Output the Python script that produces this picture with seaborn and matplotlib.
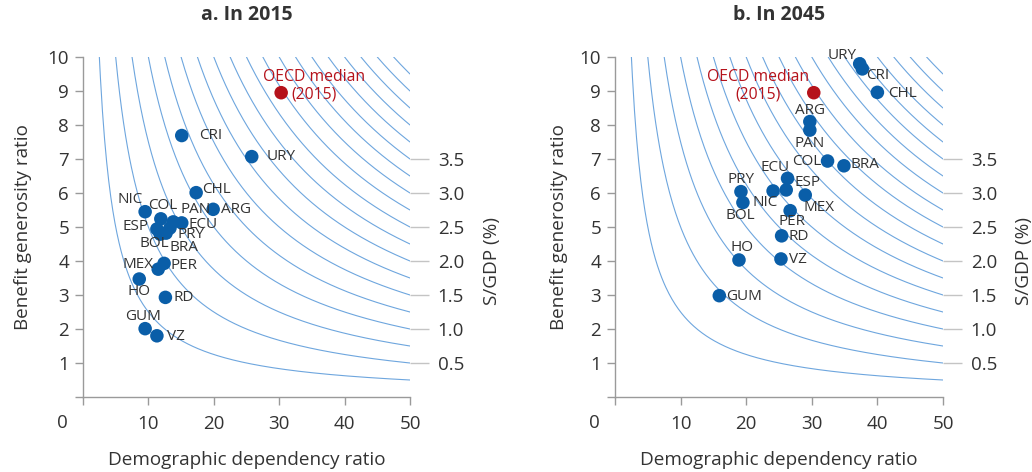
import numpy as np
import pandas as pd
import matplotlib
matplotlib.use("Agg")
import matplotlib.pyplot as plt
import seaborn as sns

# ---------------- data ----------------
countries_2015 = ["CRI", "URY", "CHL", "ARG", "NIC", "COL", "PAN", "ECU", "ESP",
                  "BOL", "BRA", "PRY", "MEX", "PER", "HO", "RD", "GUM", "VZ"]
dependency_2015 = [15.1, 25.8, 17.3, 19.9, 9.5, 11.9, 13.8, 15.1, 11.3,
                   11.8, 12.7, 13.3, 11.5, 12.4, 8.6, 12.6, 9.5, 11.3]
generosity_2015 = [7.69, 7.07, 6.01, 5.52, 5.45, 5.24, 5.15, 5.12, 4.94,
                   4.79, 4.82, 4.97, 3.76, 3.93, 3.47, 2.93, 2.01, 1.80]

countries_2045 = ["URY", "CRI", "CHL", "ARG", "PAN", "COL", "BRA", "ECU", "ESP",
                  "NIC", "PRY", "BOL", "MEX", "PER", "RD", "VZ", "HO", "GUM"]
dependency_2045 = [37.3, 37.7, 40.0, 29.7, 29.7, 32.4, 34.9, 26.3, 26.1,
                   24.1, 19.2, 19.5, 29.0, 26.7, 25.4, 25.3, 18.9, 15.9]
generosity_2045 = [9.80, 9.65, 8.96, 8.10, 7.85, 6.94, 6.80, 6.43, 6.09,
                   6.06, 6.04, 5.72, 5.94, 5.48, 4.74, 4.06, 4.03, 2.98]

oecd_label = "OECD median\n(2015)"
oecd_dependency = 30.3
oecd_generosity = 8.95

# S/GDP (%) levels of the iso-spending curves: S/GDP = dependency * generosity / 100
iso_levels = [0.25, 0.5, 0.75, 1.0, 1.25, 1.5, 1.75, 2.0, 2.25, 2.5,
              2.75, 3.0, 3.25, 3.5, 3.75, 4.0, 4.25, 4.5, 4.75]
sgdp_tick_values = [0.5, 1.0, 1.5, 2.0, 2.5, 3.0, 3.5]

x_ticks = [10, 20, 30, 40, 50]
y_ticks = [1, 2, 3, 4, 5, 6, 7, 8, 9, 10]
titles = ["a. In 2015", "b. In 2045"]

# label placement: (horizontal alignment, dx, dy) in pixels
label_pos_2015 = {
    "CRI": ("left", 17, 0), "URY": ("left", 15, 0), "CHL": ("left", 6, 3),
    "ARG": ("left", 8, 0), "NIC": ("right", -2, 12), "COL": ("center", 2, 13),
    "PAN": ("left", 7, 12), "ECU": ("left", 7, -2), "ESP": ("right", -8, 3),
    "BOL": ("center", -6, -9), "BRA": ("left", 3, -14), "PRY": ("left", 8, -6),
    "MEX": ("right", -5, 5), "PER": ("left", 6, -2), "HO": ("center", 0, -12),
    "RD": ("left", 8, 0), "GUM": ("center", -2, 12), "VZ": ("left", 10, -1),
}
label_pos_2045 = {
    "URY": ("right", -3, 8), "CRI": ("left", 4, -7), "CHL": ("left", 11, -1),
    "ARG": ("center", 0, 11), "PAN": ("center", 0, -13), "COL": ("right", -6, 0),
    "BRA": ("left", 7, 1), "ECU": ("center", -12, 11), "ESP": ("left", 8, 7),
    "PRY": ("center", 0, 12), "NIC": ("center", -8, -12), "BOL": ("center", -3, -13),
    "MEX": ("center", 14, -12), "PER": ("center", 2, -11), "RD": ("left", 7, -1),
    "VZ": ("left", 8, -1), "HO": ("center", 3, 12), "GUM": ("left", 7, -1),
}
oecd_pos = [(33, 7), (-56, 7)]
ylabel_x = [-0.156, -0.143]
right_label_x = [1.224, 1.22]

# ---------------- style ----------------
sns.set_theme(style="white")
plt.rcParams["font.family"] = ["Open Sans", "DejaVu Sans"]

BLUE = "#0a5ea8"
CURVE = "#6ea6de"
RED = "#b5121b"
TEXT = "#333333"
SPINE = "#9a9a9a"
TICK_FS = 13.5
LABEL_FS = 13.6
POINT_FS = 11

fig = plt.figure(figsize=(10.32, 4.72), dpi=100)
axes = [fig.add_axes([83 / 1032, 1 - 397 / 472, 327 / 1032, 340 / 472]),
        fig.add_axes([615 / 1032, 1 - 397 / 472, 328 / 1032, 340 / 472])]

panels = [
    (countries_2015, dependency_2015, generosity_2015, label_pos_2015),
    (countries_2045, dependency_2045, generosity_2045, label_pos_2045),
]

x_max, y_max = 50, 10

for i, (ax, (names, dep, gen, lpos)) in enumerate(zip(axes, panels)):
    # iso-spending curves
    for lvl in iso_levels:
        x_start = 100 * lvl / y_max
        xs = np.linspace(x_start, x_max, 300)
        curve = pd.DataFrame({"x": xs, "y": 100 * lvl / xs})
        sns.lineplot(data=curve, x="x", y="y", ax=ax, color=CURVE, lw=0.8,
                     sort=False, estimator=None, zorder=1)

    df = pd.DataFrame({"country": names, "dependency": dep, "generosity": gen})
    sns.scatterplot(data=df, x="dependency", y="generosity", ax=ax, color=BLUE,
                    s=95, edgecolor="none", zorder=3)
    sns.scatterplot(x=[oecd_dependency], y=[oecd_generosity], ax=ax, color=RED,
                    s=95, edgecolor="none", zorder=3)

    for name, xv, yv in zip(names, dep, gen):
        ha, dx, dy = lpos[name]
        ax.annotate(name, (xv, yv), xytext=(dx, dy), textcoords="offset pixels",
                    ha=ha, va="center", fontsize=POINT_FS, color=TEXT, zorder=4)
    dx, dy = oecd_pos[i]
    ax.annotate(oecd_label, (oecd_dependency, oecd_generosity), xytext=(dx, dy),
                textcoords="offset pixels", ha="center", va="center",
                multialignment="center", fontsize=11.3, color=RED,
                linespacing=1.1, zorder=4)

    ax.set_xlim(0, x_max)
    ax.set_ylim(0, y_max)
    ax.set_xticks([0] + x_ticks)
    ax.set_xticklabels([""] + [str(t) for t in x_ticks])
    ax.set_yticks([0] + y_ticks)
    ax.set_yticklabels([""] + [str(t) for t in y_ticks])
    ax.annotate("0", (0, 0), xycoords="axes fraction", xytext=(-21, -26),
                textcoords="offset pixels", ha="center", va="center",
                fontsize=TICK_FS, color=TEXT)

    for side in ["top", "right"]:
        ax.spines[side].set_visible(False)
    for side in ["left", "bottom"]:
        ax.spines[side].set_color(SPINE)
        ax.spines[side].set_linewidth(1.0)
    ax.tick_params(axis="both", which="major", length=6, width=1.0,
                   color=SPINE, labelsize=TICK_FS, labelcolor=TEXT,
                   left=True, bottom=True, direction="out")
    ax.tick_params(axis="x", pad=7)
    ax.tick_params(axis="y", pad=4)

    ax.set_xlabel("Demographic dependency ratio", fontsize=LABEL_FS, color=TEXT)
    ax.xaxis.set_label_coords(0.5, -0.16)
    ax.set_ylabel("Benefit generosity ratio", fontsize=LABEL_FS, color=TEXT)
    ax.yaxis.set_label_coords(ylabel_x[i], 0.5)
    ax.set_title(titles[i], fontsize=14, fontweight="bold", color=TEXT, pad=27)

    # right-hand S/GDP scale at the curve ends
    ax2 = ax.twinx()
    ax2.set_ylim(0, y_max)
    ax2.set_yticks([100 * v / x_max for v in sgdp_tick_values])
    ax2.set_yticklabels([f"{v:.1f}" for v in sgdp_tick_values])
    for side in ["top", "right", "left", "bottom"]:
        ax2.spines[side].set_visible(False)
    ax2.tick_params(axis="y", right=True, length=14, width=1.0, color="#c4c4c4",
                    labelsize=TICK_FS, labelcolor=TEXT, pad=6)
    ax2.set_ylabel("S/GDP (%)", fontsize=LABEL_FS, color=TEXT)
    ax2.yaxis.set_label_coords(right_label_x[i], 0.4)
    ax2.grid(False)
    ax.grid(False)

fig.savefig("out.png", dpi=100, facecolor="white")
